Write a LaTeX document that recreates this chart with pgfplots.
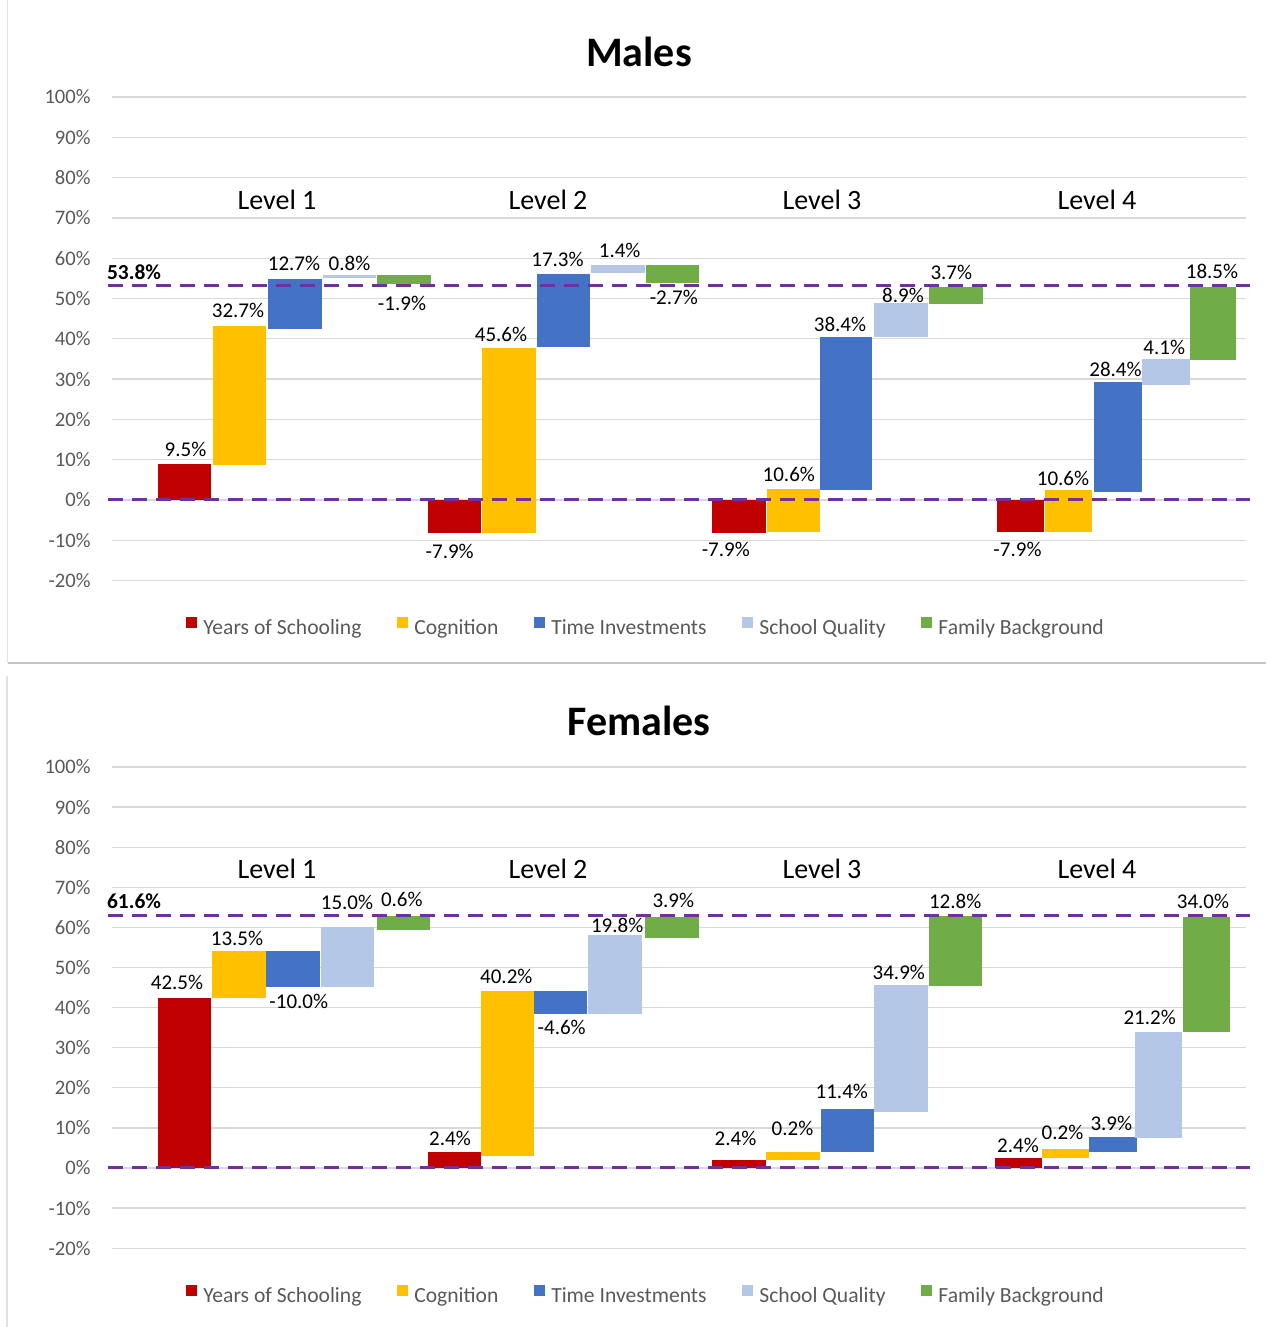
\documentclass[border=0pt]{standalone}
\usepackage{pgfplots}
\pgfplotsset{compat=1.18}
\usepackage{fontspec}
\setmainfont{Carlito}
\definecolor{cYoS}{HTML}{C00000}
\definecolor{cCog}{HTML}{FFC000}
\definecolor{cTI}{HTML}{4472C4}
\definecolor{cSQ}{HTML}{B4C7E7}
\definecolor{cFB}{HTML}{70AD47}
\definecolor{cLine}{HTML}{7030A0}
\definecolor{cTick}{HTML}{595959}
\definecolor{cGrid}{HTML}{D9D9D9}
\definecolor{cFrame}{HTML}{C4C4C4}
\definecolor{cFrameL}{HTML}{E2E2E2}
% floating bar: color, x-left, x-right, y-bottom, y-top
\newcommand{\wbar}[5]{\addplot[fill=#1,draw=none,forget plot] coordinates {(#2,#4) (#3,#4) (#3,#5) (#2,#5)};}
% data label: x, baseline y, text
\newcommand{\dl}[3]{\node[anchor=base,inner sep=0pt,font=\fontsize{10.5}{12}\selectfont] at (axis cs:#1,#2) {#3};}
\newcommand{\lvl}[3]{\node[anchor=base,inner sep=0pt,font=\fontsize{14}{16}\selectfont] at (axis cs:#1,#2) {#3};}
\pgfplotsset{
 wfall/.style={
  scale only axis, width=567pt,
  xmin=112, xmax=1246, ymin=-20, ymax=100,
  clip=false,
  axis line style={draw=none},
  xtick=\empty,
  ytick={-20,-10,0,10,20,30,40,50,60,70,80,90,100},
  yticklabels={-20\%,-10\%,0\%,10\%,20\%,30\%,40\%,50\%,60\%,70\%,80\%,90\%,100\%},
  ymajorgrids, major grid style={cGrid, line width=0.65pt},
  major tick length=0pt,
  yticklabel style={font=\fontsize{10.3}{12}\selectfont, text=cTick, anchor=east, inner sep=0pt, xshift=-10.5pt},
  legend image code/.code={\fill[##1, draw=none] (0pt,0pt) rectangle (5.5pt,5.5pt);},
  legend style={draw=none, fill=none, legend columns=5, font=\fontsize{10.8}{12}\selectfont, text=cTick, inner sep=0pt,
    nodes={inner sep=0pt},
    /tikz/every odd column/.append style={column sep=3pt},
    /tikz/every even column/.append style={column sep=17.9pt}},
 }
}
\begin{document}
\begin{tikzpicture}
% chart frames
\draw[cFrameL, line width=0.6pt] (3.75pt,663.5pt) -- (3.75pt,332pt);
\draw[cFrame, line width=0.8pt] (3.75pt,332pt) -- (633pt,332pt);
\draw[cFrameL, line width=0.6pt] (3.5pt,325.5pt) -- (3.5pt,0pt);

% ================= MALES =================
\begin{axis}[wfall, height=241.8pt, at={(56pt,373.2pt)}, anchor=south west,
  legend style={at={(0.0653,-0.0965)}, anchor=west}]
\addlegendimage{fill=cYoS, draw=none}\addlegendentry{Years of Schooling}
\addlegendimage{fill=cCog, draw=none}\addlegendentry{Cognition}
\addlegendimage{fill=cTI, draw=none}\addlegendentry{Time Investments}
\addlegendimage{fill=cSQ, draw=none}\addlegendentry{School Quality}
\addlegendimage{fill=cFB, draw=none}\addlegendentry{Family Background}
% Level 1
\wbar{cYoS}{158}{211}{0}{8.9}
\wbar{cCog}{212.7}{266}{8.7}{43.2}
\wbar{cTI}{268}{322}{42.5}{54.9}
\wbar{cSQ}{322.7}{376}{55.1}{55.8}
\wbar{cFB}{377.3}{431}{53.5}{55.9}
% Level 2
\wbar{cYoS}{427.7}{481}{-8.1}{0}
\wbar{cCog}{482.3}{535.7}{-8.1}{37.8}
\wbar{cTI}{537}{590.3}{38.0}{56.0}
\wbar{cSQ}{591.3}{645}{56.3}{58.4}
\wbar{cFB}{646}{699.3}{53.8}{58.2}
% Level 3
\wbar{cYoS}{712.3}{766}{-8.1}{0}
\wbar{cCog}{766.7}{819.7}{-7.9}{2.7}
\wbar{cTI}{820}{872}{2.5}{40.5}
\wbar{cSQ}{874.3}{928}{40.4}{48.8}
\wbar{cFB}{929.3}{983}{48.7}{52.8}
% Level 4
\wbar{cYoS}{996.7}{1044}{-7.9}{0}
\wbar{cCog}{1044.7}{1092}{-7.9}{2.6}
\wbar{cTI}{1094.3}{1142}{2.1}{29.2}
\wbar{cSQ}{1142.3}{1189.7}{28.6}{34.9}
\wbar{cFB}{1189.5}{1236.3}{34.7}{52.8}
% reference lines
\addplot[cLine, line width=1.5pt, dash pattern=on 7.5pt off 4.5pt, forget plot] coordinates {(108,0) (1250,0)};
\addplot[cLine, line width=1.5pt, dash pattern=on 7.5pt off 4.5pt, forget plot] coordinates {(108,53.3) (1250,53.3)};
% labels
\dl{185.5}{10.9}{9.5\%}\dl{238}{45.2}{32.7\%}\dl{294}{56.9}{12.7\%}\dl{349.5}{56.9}{0.8\%}\dl{402}{47.1}{-1.9\%}
\dl{449.7}{-14.5}{-7.9\%}\dl{501}{39.3}{45.6\%}\dl{557.5}{57.9}{17.3\%}\dl{619.7}{60.2}{1.4\%}\dl{673.8}{48.4}{-2.7\%}
\dl{725.8}{-14.1}{-7.9\%}\dl{788.8}{4.5}{10.6\%}\dl{840}{41.8}{38.4\%}\dl{903}{49.0}{8.9\%}\dl{951.3}{54.6}{3.7\%}
\dl{1017.5}{-14.1}{-7.9\%}\dl{1063}{3.7}{10.6\%}\dl{1115.5}{30.6}{28.4\%}\dl{1164.2}{36.2}{4.1\%}\dl{1212}{55.0}{18.5\%}
\node[anchor=base west,inner sep=0pt,font=\fontsize{10.7}{12}\selectfont\bfseries] at (axis cs:106.7,54.8) {53.8\%};
\lvl{277}{72}{Level 1}\lvl{548}{72}{Level 2}\lvl{822}{72}{Level 3}\lvl{1097}{72}{Level 4}
\node[anchor=base,inner sep=0pt,font=\fontsize{21}{24}\selectfont\bfseries] at (axis cs:639,107.6) {Males};
\end{axis}

% ================= FEMALES =================
\begin{axis}[wfall, height=240.6pt, at={(56pt,39.4pt)}, anchor=south west,
  legend style={at={(0.0653,-0.0978)}, anchor=west}]
\addlegendimage{fill=cYoS, draw=none}\addlegendentry{Years of Schooling}
\addlegendimage{fill=cCog, draw=none}\addlegendentry{Cognition}
\addlegendimage{fill=cTI, draw=none}\addlegendentry{Time Investments}
\addlegendimage{fill=cSQ, draw=none}\addlegendentry{School Quality}
\addlegendimage{fill=cFB, draw=none}\addlegendentry{Family Background}
% Level 1
\wbar{cYoS}{157.7}{211}{0}{42.5}
\wbar{cCog}{212.3}{266}{42.3}{54.1}
\wbar{cTI}{266}{320.3}{45.2}{54.1}
\wbar{cSQ}{321}{374.3}{45.1}{60.2}
\wbar{cFB}{376.7}{430.3}{59.3}{62.8}
% Level 2
\wbar{cYoS}{427.7}{481}{0}{3.9}
\wbar{cCog}{481.3}{534}{3.0}{44.2}
\wbar{cTI}{534}{587}{38.4}{44.2}
\wbar{cSQ}{587.7}{641.7}{38.3}{58.1}
\wbar{cFB}{645.3}{698.7}{57.3}{62.7}
% Level 3
\wbar{cYoS}{712.3}{766}{0}{2.0}
\wbar{cCog}{766}{819.7}{2.0}{4.1}
\wbar{cTI}{820.7}{874.3}{4.1}{14.6}
\wbar{cSQ}{874.3}{927.7}{13.9}{45.6}
\wbar{cFB}{929}{982.3}{45.3}{62.8}
% Level 4
\wbar{cYoS}{995}{1042.3}{0}{2.4}
\wbar{cCog}{1042.3}{1088.7}{2.5}{4.7}
\wbar{cTI}{1089.3}{1136.7}{3.9}{7.7}
\wbar{cSQ}{1135}{1182}{7.6}{33.8}
\wbar{cFB}{1182.7}{1230}{34.0}{62.7}
% reference lines
\addplot[cLine, line width=1.5pt, dash pattern=on 7.5pt off 4.5pt, forget plot] coordinates {(108,0) (1250,0)};
\addplot[cLine, line width=1.5pt, dash pattern=on 7.5pt off 4.5pt, forget plot] coordinates {(108,63.0) (1250,63.0)};
% labels
\dl{177}{44.6}{42.5\%}\dl{237}{55.4}{13.5\%}\dl{298.8}{39.8}{-10.0\%}\dl{347}{64.5}{15.0\%}\dl{401.8}{65.3}{0.6\%}
\dl{450}{5.7}{2.4\%}\dl{506.3}{46.1}{40.2\%}\dl{561.7}{33.4}{-4.6\%}\dl{617.2}{58.7}{19.8\%}\dl{673.3}{65.0}{3.9\%}
\dl{735.5}{5.6}{2.4\%}\dl{792.5}{8.0}{0.2\%}\dl{841.8}{17.4}{11.4\%}\dl{898.8}{47.1}{34.9\%}\dl{955.2}{64.8}{12.8\%}
\dl{1018}{3.8}{2.4\%}\dl{1062.5}{7.0}{0.2\%}\dl{1111.3}{9.3}{3.9\%}\dl{1149.7}{35.7}{21.2\%}\dl{1203}{64.8}{34.0\%}
\node[anchor=base west,inner sep=0pt,font=\fontsize{10.7}{12}\selectfont\bfseries] at (axis cs:106.7,64.8) {61.6\%};
\lvl{277}{72.1}{Level 1}\lvl{548}{72.1}{Level 2}\lvl{822}{72.1}{Level 3}\lvl{1097}{72.1}{Level 4}
\node[anchor=base,inner sep=0pt,font=\fontsize{21}{24}\selectfont\bfseries] at (axis cs:639,107.9) {Females};
\end{axis}
\pgfresetboundingbox
\path (0pt,0pt) rectangle (633pt,663.5pt);
\end{tikzpicture}
\end{document}
